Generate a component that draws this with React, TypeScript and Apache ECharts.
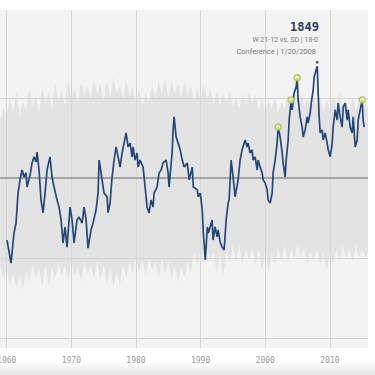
import React, { useEffect, useRef } from "react";
import * as echarts from "echarts";

// ---- axis / reference values ----
const TICK_YEARS = [1960, 1970, 1980, 1990, 2000, 2010];
const GRID_LEVELS = [1000, 1250, 1750];
const MEAN_ELO = 1500;

// ---- league-wide spread band (half-year samples from 1959.0) ----
const BAND_START = 1959;
const BAND_STEP = 0.5;
const BAND_HIGH = [
  1680, 1720, 1690, 1750, 1700, 1770, 1690, 1740, 1710, 1780,
  1720, 1760, 1700, 1790, 1730, 1770, 1715, 1795, 1740, 1775,
  1725, 1805, 1745, 1785, 1735, 1800, 1755, 1790, 1745, 1810,
  1760, 1795, 1740, 1805, 1750, 1815, 1765, 1790, 1745, 1800,
  1755, 1785, 1735, 1775, 1725, 1765, 1735, 1795, 1745, 1805,
  1765, 1810, 1750, 1800, 1760, 1795, 1745, 1800, 1755, 1790,
  1740, 1785, 1735, 1795, 1745, 1780, 1730, 1770, 1725, 1765,
  1735, 1770, 1720, 1755, 1715, 1765, 1725, 1770, 1730, 1760,
  1710, 1750, 1705, 1745, 1715, 1755, 1700, 1740, 1715, 1765,
  1720, 1755, 1710, 1765, 1725, 1750, 1715, 1760, 1725, 1755,
  1705, 1745, 1715, 1755, 1725, 1765, 1710, 1745, 1700, 1750,
  1715, 1740, 1705, 1735, 1710,
];
const BAND_LOW = [
  1225, 1185, 1215, 1165, 1205, 1155, 1195, 1150, 1210, 1175,
  1230, 1185, 1220, 1165, 1230, 1160, 1220, 1185, 1240, 1195,
  1230, 1180, 1240, 1195, 1225, 1175, 1240, 1200, 1230, 1185,
  1240, 1180, 1230, 1170, 1220, 1160, 1210, 1165, 1230, 1185,
  1240, 1200, 1250, 1205, 1240, 1195, 1250, 1210, 1240, 1190,
  1250, 1200, 1240, 1185, 1230, 1175, 1220, 1190, 1240, 1200,
  1270, 1225, 1280, 1230, 1285, 1240, 1270, 1200, 1265, 1190,
  1275, 1235, 1285, 1240, 1290, 1230, 1280, 1245, 1285, 1225,
  1280, 1210, 1270, 1205, 1265, 1230, 1280, 1240, 1290, 1235,
  1280, 1245, 1290, 1250, 1280, 1230, 1270, 1240, 1280, 1225,
  1270, 1215, 1265, 1230, 1280, 1240, 1290, 1250, 1280, 1240,
  1290, 1250, 1280, 1255, 1270,
];

// ---- team Elo rating over time ----
const ELO_YEARS = [
  1960.05, 1960.67, 1961.13, 1961.44, 1961.75, 1962.06, 1962.37, 1962.68, 1962.99, 1963.14,
  1963.61, 1963.92, 1964.23, 1964.54, 1964.69, 1965.0, 1965.31, 1965.62, 1965.93, 1966.24,
  1966.7, 1967.01, 1967.32, 1967.79, 1968.1, 1968.41, 1968.72, 1969.02, 1969.33, 1969.8,
  1970.11, 1970.42, 1970.88, 1971.19, 1971.66, 1971.97, 1972.28, 1972.58, 1973.05, 1973.36,
  1973.82, 1974.13, 1974.3, 1974.6, 1974.91, 1975.06, 1975.53, 1975.68, 1975.99, 1976.3,
  1976.61, 1976.92, 1977.23, 1977.54, 1977.85, 1978.16, 1978.47, 1978.78, 1979.09, 1979.4,
  1979.55, 1979.86, 1980.17, 1980.33, 1980.63, 1981.1, 1981.41, 1981.72, 1982.03, 1982.34,
  1982.65, 1982.8, 1983.27, 1983.58, 1983.89, 1984.19, 1984.66, 1984.97, 1985.12, 1985.59,
  1985.74, 1985.9, 1986.21, 1986.52, 1986.84, 1987.15, 1987.46, 1987.93, 1988.24, 1988.71,
  1988.87, 1989.49, 1989.64, 1989.95, 1990.26, 1990.42, 1990.73, 1991.04, 1991.2, 1991.78,
  1991.93, 1992.24, 1992.55, 1992.71, 1993.02, 1993.33, 1993.64, 1993.95, 1994.26, 1994.41,
  1994.72, 1995.03, 1995.34, 1995.8, 1996.11, 1996.42, 1996.89, 1997.2, 1997.35, 1997.66,
  1997.97, 1998.13, 1998.44, 1998.75, 1998.9, 1999.21, 1999.52, 1999.68, 1999.99, 2000.3,
  2000.45, 2000.76, 2001.07, 2001.22, 2001.53, 2001.84, 2002.0, 2002.31, 2002.62, 2002.77,
  2003.08, 2003.24, 2003.55, 2003.7, 2004.01, 2004.17, 2004.47, 2004.78, 2004.94, 2005.09,
  2005.4, 2005.71, 2005.87, 2006.18, 2006.49, 2006.64, 2006.95, 2007.11, 2007.42, 2007.57,
  2007.88, 2008.04, 2008.19, 2008.34, 2008.5, 2008.81, 2008.96, 2009.27, 2009.58, 2009.74,
  2010.05, 2010.36, 2010.51, 2010.82, 2011.13, 2011.28, 2011.59, 2011.9, 2012.06, 2012.37,
  2012.68, 2012.83, 2013.14, 2013.45, 2013.61, 2013.92, 2014.23, 2014.38, 2014.69, 2015.0,
  2015.15, 2015.31,
];
const ELO_VALUES = [
  1306, 1234, 1328, 1359, 1453, 1494, 1525, 1503, 1516, 1472,
  1509, 1547, 1566, 1550, 1581, 1525, 1431, 1391, 1453, 1525,
  1566, 1503, 1472, 1431, 1409, 1369, 1297, 1347, 1284, 1409,
  1369, 1297, 1369, 1378, 1359, 1409, 1369, 1281, 1338, 1359,
  1400, 1453, 1556, 1516, 1472, 1453, 1441, 1391, 1422, 1503,
  1556, 1597, 1566, 1534, 1578, 1609, 1641, 1597, 1609, 1566,
  1597, 1556, 1578, 1534, 1556, 1534, 1472, 1409, 1391, 1431,
  1409, 1453, 1472, 1516, 1525, 1547, 1556, 1516, 1472, 1578,
  1650, 1691, 1628, 1609, 1588, 1556, 1534, 1547, 1494, 1534,
  1472, 1463, 1441, 1453, 1400, 1328, 1244, 1347, 1328, 1369,
  1306, 1347, 1316, 1338, 1300, 1284, 1275, 1369, 1422, 1431,
  1556, 1503, 1441, 1494, 1556, 1588, 1619, 1597, 1609, 1578,
  1588, 1556, 1566, 1525, 1556, 1534, 1516, 1494, 1484, 1463,
  1431, 1422, 1453, 1516, 1556, 1609, 1659, 1628, 1578, 1547,
  1503, 1556, 1619, 1681, 1744, 1713, 1766, 1784, 1813, 1744,
  1691, 1659, 1628, 1650, 1691, 1672, 1703, 1734, 1775, 1816,
  1838, 1849, 1766, 1691, 1641, 1650, 1619, 1641, 1609, 1588,
  1566, 1609, 1659, 1713, 1681, 1734, 1691, 1659, 1722, 1734,
  1681, 1713, 1659, 1641, 1691, 1597, 1619, 1681, 1713, 1744,
  1681, 1659,
];

// ---- highlighted points ----
const TITLE_WINS = [
  [2002.0, 1659],
  [2004.01, 1744],
  [2004.94, 1813],
  [2015.0, 1744],
];
const PEAK_POINT = [2008.04, 1849];
const PEAK_LABEL = "1849";
const PEAK_LINE1 = "W 21-12 vs. SD | 18-0";
const PEAK_LINE2 = "Conference | 1/20/2008";

export default function App() {
  const ref = useRef<HTMLDivElement>(null);

  useEffect(() => {
    if (!ref.current) return;
    const chart = echarts.init(ref.current, undefined, { renderer: "svg" });

    const bandHigh = BAND_HIGH.map((v, i) => [BAND_START + i * BAND_STEP, v]);
    const bandLow = BAND_LOW.map((v, i) => [BAND_START + i * BAND_STEP, v]);
    const elo = ELO_YEARS.map((y, i) => [y, ELO_VALUES[i]]);

    chart.setOption({
      animation: false,
      backgroundColor: "#ffffff",
      grid: {
        left: 0,
        right: 7,
        top: 10,
        bottom: 27,
        show: true,
        backgroundColor: "#f3f3f3",
        borderWidth: 0,
        containLabel: false,
        outerBoundsMode: "none",
      },
      xAxis: {
        type: "value",
        min: 1958.96,
        max: 2015.9,
        axisLine: { show: false },
        axisTick: { show: false },
        splitLine: { show: false },
        axisLabel: {
          customValues: TICK_YEARS,
          formatter: (v: number) => String(v),
          color: "#9a9a9a",
          fontSize: 8,
          fontFamily: "DejaVu Sans Mono",
          margin: 8,
        },
      },
      yAxis: {
        type: "value",
        min: 968.75,
        max: 2025,
        show: false,
        splitLine: { show: false },
      },
      series: [
        {
          type: "line",
          data: bandHigh,
          symbol: "none",
          lineStyle: { width: 0 },
          areaStyle: { color: "#e3e3e3", opacity: 1, origin: "start" },
          z: 1,
          silent: true,
        },
        {
          type: "line",
          data: bandLow,
          symbol: "none",
          lineStyle: { width: 0 },
          areaStyle: { color: "#f3f3f3", opacity: 1, origin: "start" },
          z: 1,
          silent: true,
        },
        {
          type: "line",
          data: [],
          z: 3,
          silent: true,
          markLine: {
            silent: true,
            symbol: ["none", "none"],
            label: { show: false },
            lineStyle: { color: "#d6d6d6", width: 1, type: "solid" },
            data: [
              ...TICK_YEARS.map((x) => ({ xAxis: x })),
              ...GRID_LEVELS.map((y) => ({ yAxis: y })),
            ],
          },
        },
        {
          type: "line",
          data: [],
          z: 4,
          silent: true,
          markLine: {
            silent: true,
            symbol: ["none", "none"],
            label: { show: false },
            lineStyle: { color: "#8f8f8f", width: 1.5, type: "solid" },
            data: [{ yAxis: MEAN_ELO }],
          },
        },
        {
          type: "line",
          data: elo,
          symbol: "none",
          lineStyle: { color: "#24477a", width: 1.7 },
          z: 5,
          silent: true,
        },
        {
          type: "scatter",
          data: TITLE_WINS,
          symbol: "circle",
          symbolSize: 6,
          itemStyle: { color: "#eef1c6", borderColor: "#a9bd2c", borderWidth: 1.5 },
          z: 6,
          silent: true,
        },
        {
          type: "scatter",
          data: [PEAK_POINT],
          symbol: "circle",
          symbolSize: 3,
          symbolOffset: [0, -4],
          itemStyle: { color: "#333333" },
          z: 6,
          silent: true,
        },
      ],
      graphic: [
        {
          type: "text",
          x: 319,
          y: 27,
          z: 10,
          style: {
            text: PEAK_LABEL,
            align: "right",
            verticalAlign: "middle",
            fill: "#2c3e5c",
            font: 'bold 12px "DejaVu Sans Mono"',
          },
        },
        {
          type: "text",
          x: 318,
          y: 40,
          z: 10,
          style: {
            text: PEAK_LINE1,
            align: "right",
            verticalAlign: "middle",
            fill: "#7a7a7a",
            font: '7px Roboto',
          },
        },
        {
          type: "text",
          x: 316,
          y: 51,
          z: 10,
          style: {
            text: PEAK_LINE2,
            align: "right",
            verticalAlign: "middle",
            fill: "#7a7a7a",
            font: '7.5px Roboto',
          },
        },
        {
          type: "rect",
          z: -1,
          shape: { x: 0, y: 361, width: 375, height: 14 },
          style: {
            fill: new echarts.graphic.LinearGradient(0, 0, 0, 1, [
              { offset: 0, color: "#ffffff" },
              { offset: 1, color: "#e6e6e6" },
            ]),
          },
        },
      ],
    });

    return () => chart.dispose();
  }, []);

  return (
    <div
      ref={ref}
      style={{ position: "fixed", left: 0, top: 0, width: 375, height: 375 }}
    />
  );
}
